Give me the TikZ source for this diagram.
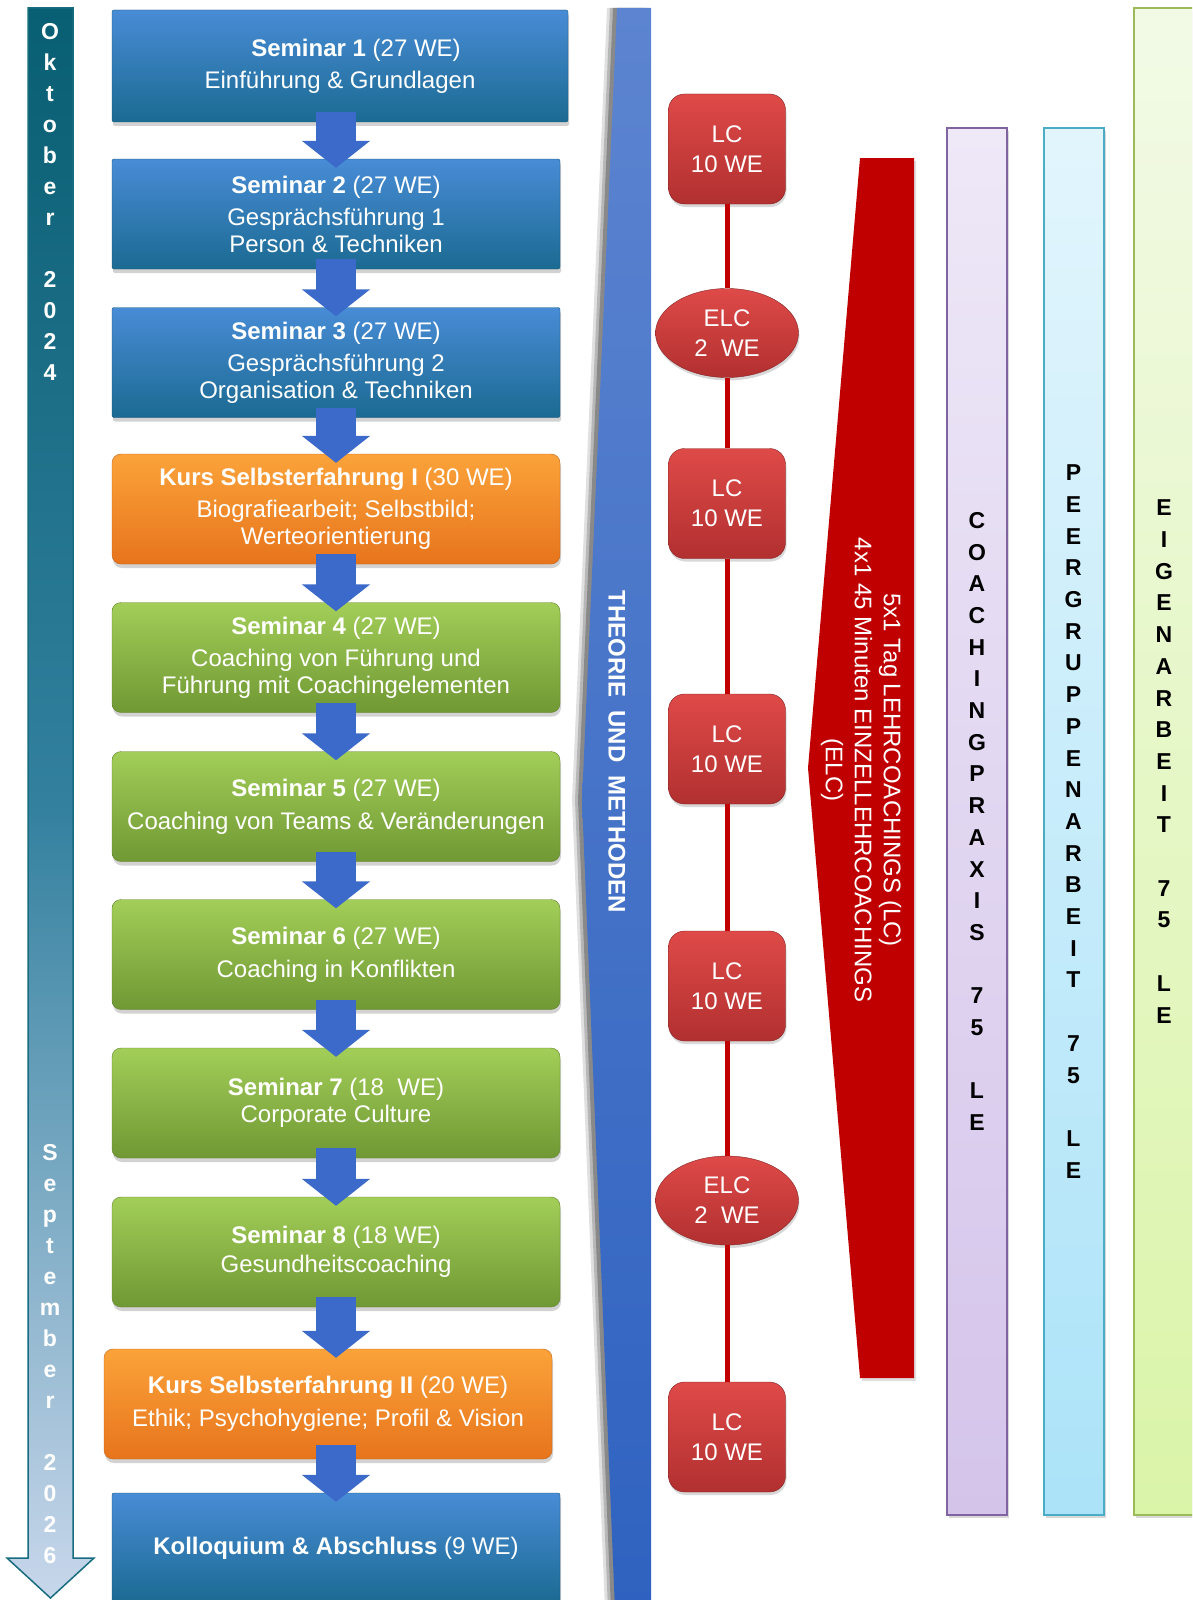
\documentclass[tikz,border=0pt]{standalone}
\usepackage{fontspec}
\setmainfont{Liberation Sans}
\usetikzlibrary{shapes.geometric,arrows.meta,shadows}

\definecolor{bluetop}{RGB}{72,140,214}
\definecolor{bluebot}{RGB}{27,106,146}
\definecolor{orangetop}{RGB}{251,163,58}
\definecolor{orangebot}{RGB}{231,116,28}
\definecolor{greentop}{RGB}{162,206,88}
\definecolor{greenbot}{RGB}{112,152,52}
\definecolor{arrowblue}{RGB}{60,106,202}
\definecolor{theotop}{RGB}{92,132,208}
\definecolor{theobot}{RGB}{47,98,192}
\definecolor{redtop}{RGB}{222,74,72}
\definecolor{redbot}{RGB}{178,48,48}
\definecolor{redline}{RGB}{192,0,0}
\definecolor{tltop}{RGB}{8,94,114}
\definecolor{tlmid}{RGB}{50,128,158}
\definecolor{tlbot}{RGB}{200,215,235}
\definecolor{tlborder}{RGB}{24,108,128}
\definecolor{coachtop}{RGB}{238,232,247}
\definecolor{coachbot}{RGB}{212,196,234}
\definecolor{coachline}{RGB}{128,100,162}
\definecolor{peertop}{RGB}{226,245,253}
\definecolor{peerbot}{RGB}{172,227,248}
\definecolor{peerline}{RGB}{75,172,198}
\definecolor{eigentop}{RGB}{242,250,230}
\definecolor{eigenbot}{RGB}{218,244,168}
\definecolor{eigenline}{RGB}{155,187,89}

\tikzstyle{stage} = [rectangle, minimum width=448pt, minimum height=110pt, align=center, text=white, font=\fontsize{24}{27}\selectfont, drop shadow={shadow xshift=1pt, shadow yshift=-4pt, opacity=.35}]
\tikzstyle{bluestage} = [stage, rounded corners=2pt, top color=bluetop, bottom color=bluebot, draw=bluebot!80!black]
\tikzstyle{orangestage} = [stage, rounded corners=9pt, top color=orangetop, bottom color=orangebot, draw=orangebot!85!black]
\tikzstyle{greenstage} = [stage, rounded corners=9pt, top color=greentop, bottom color=greenbot, draw=greenbot!85!black]
\tikzstyle{blockarrow} = [draw=arrowblue, line width=40pt, -{Triangle[width=67pt,length=27pt]}]
\tikzstyle{lcbox} = [rectangle, rounded corners=16pt, minimum width=117pt, minimum height=110pt, top color=redtop, bottom color=redbot, draw=redbot!75!black, text=white, align=center, font=\fontsize{24}{30}\selectfont, drop shadow={shadow xshift=1pt, shadow yshift=-3pt, opacity=.3}]
\tikzstyle{elcbox} = [lcbox, ellipse, sharp corners, inner sep=0pt, minimum width=143pt, minimum height=89pt]
\tikzstyle{lcline} = [draw=redline, line width=5pt]
\tikzstyle{column} = [rectangle, minimum width=60pt, line width=2pt, align=center, font=\bfseries\fontsize{23}{31.7}\selectfont, drop shadow={shadow xshift=2pt, shadow yshift=-3pt, opacity=.3}]
\tikzstyle{monthtext} = [align=center, text=white, font=\bfseries\fontsize{23}{31}\selectfont]
\tikzstyle{theotext} = [rotate=-90, text=white, font=\bfseries\fontsize{24}{28}\selectfont]
\tikzstyle{bracetext} = [rotate=-90, align=center, text=white, font=\fontsize{24}{29}\selectfont]

\begin{document}
\begin{tikzpicture}[x=1pt, y=-1pt]
    \useasboundingbox (0,0) rectangle (1192,1600);
    \fill[white] (0,0) rectangle (1192,1600);
    \clip (0,0) rectangle (1192,1600);

    \fill[black, opacity=.12, xshift=-10pt] (617,8) -- (651,8) -- (651,1610) -- (615,1610) -- (582,800) -- cycle;
    \fill[black, opacity=.18, xshift=-7pt] (617,8) -- (651,8) -- (651,1610) -- (615,1610) -- (582,800) -- cycle;
    \fill[black, opacity=.25, xshift=-4pt] (617,8) -- (651,8) -- (651,1610) -- (615,1610) -- (582,800) -- cycle;
    \path[top color=theotop, bottom color=theobot] (617,8) -- (651,8) -- (651,1610) -- (615,1610) -- (582,800) -- cycle;
    \node (theo) [theotext] at (617,752) {THEORIE~~UND~~METHODEN};

    \path[top color=tltop, bottom color=tlbot, middle color=tlmid, draw=tlborder, line width=1.5pt] (28,8) -- (73,8) -- (73,1558) -- (94,1558) -- (50.5,1598) -- (7,1558) -- (28,1558) -- cycle;
    \node (okt) [monthtext] at (50,202) {O\\k\\t\\o\\b\\e\\r\\~\\2\\0\\2\\4};
    \node (sep) [monthtext] at (50,1354) {S\\e\\p\\t\\e\\m\\b\\e\\r\\~\\2\\0\\2\\6};

    \node (s1) [bluestage, minimum width=456pt, minimum height=112pt] at (340,66) {\hspace*{32pt}\textbf{Seminar 1} (27 WE)\\[5pt]Einführung \& Grundlagen};
    \node (s2) [bluestage] at (336,214) {\textbf{Seminar 2} (27 WE)\\[5pt]Gesprächsführung 1\\Person \& Techniken};
    \node (s3) [bluestage] at (336,362.5) {\textbf{Seminar 3} (27 WE)\\[5pt]Gesprächsführung 2\\Organisation \& Techniken};
    \node (k1) [orangestage] at (336,509) {\textbf{Kurs Selbsterfahrung I} (30 WE)\\[5pt]Biografiearbeit; Selbstbild;\\Werteorientierung};
    \node (s4) [greenstage] at (336,657.5) {\textbf{Seminar 4} (27 WE)\\[5pt]Coaching von Führung und\\Führung mit Coachingelementen};
    \node (s5) [greenstage] at (336,806.5) {\textbf{Seminar 5} (27 WE)\\[6pt]Coaching von Teams \& Veränderungen};
    \node (s6) [greenstage] at (336,954.5) {\textbf{Seminar 6} (27 WE)\\[6pt]Coaching in Konflikten};
    \node (s7) [greenstage] at (336,1103) {\textbf{Seminar 7} (18~~WE)\\Corporate Culture};
    \node (s8) [greenstage] at (336,1252) {\textbf{Seminar 8} (18 WE)\\[2pt]Gesundheitscoaching};
    \node (k2) [orangestage] at (328,1404) {\textbf{Kurs Selbsterfahrung II} (20 WE)\\[6pt]Ethik; Psychohygiene; Profil \& Vision};
    \node (kol) [bluestage] at (336,1548) {\textbf{Kolloquium \& Abschluss} (9 WE)};

    \draw[blockarrow] ([xshift=-4pt,yshift=10pt]s1.south) -- ([yshift=-9pt]s2.north);
    \draw[blockarrow] ([yshift=10pt]s2.south) -- ([yshift=-9pt]s3.north);
    \draw[blockarrow] ([yshift=10pt]s3.south) -- ([yshift=-9pt]k1.north);
    \draw[blockarrow] ([yshift=10pt]k1.south) -- ([yshift=-9pt]s4.north);
    \draw[blockarrow] ([yshift=10pt]s4.south) -- ([yshift=-9pt]s5.north);
    \draw[blockarrow] ([yshift=10pt]s5.south) -- ([yshift=-9pt]s6.north);
    \draw[blockarrow] ([yshift=10pt]s6.south) -- ([yshift=-9pt]s7.north);
    \draw[blockarrow] ([yshift=10pt]s7.south) -- ([yshift=-9pt]s8.north);
    \draw[blockarrow] ([yshift=10pt]s8.south) -- ([xshift=8pt,yshift=-9pt]k2.north);
    \draw[blockarrow] ([xshift=8pt,yshift=14pt]k2.south) -- ([yshift=-9pt]kol.north);

    \path[fill=redline, drop shadow={shadow xshift=2pt, shadow yshift=-3pt, opacity=.25}] (860,158) -- (914,158) -- (914,1378) -- (860,1378) -- (808,768) -- cycle;
    \node (lctext) [bracetext] at (861,770) {5x1 Tag LEHRCOACHINGS (LC)\\4x1 45 Minuten EINZELLEHRCOACHINGS\\(ELC)};

    \node (lc1) [lcbox] at (727,149) {LC\\10 WE};
    \node (elc1) [elcbox] at (727,333) {ELC\\2~~WE};
    \node (lc2) [lcbox] at (727,503.5) {LC\\10 WE};
    \node (lc3) [lcbox] at (727,749) {LC\\10 WE};
    \node (lc4) [lcbox] at (727,986) {LC\\10 WE};
    \node (elc2) [elcbox] at (727,1200.5) {ELC\\2~~WE};
    \node (lc5) [lcbox] at (727,1437) {LC\\10 WE};

    \draw[lcline] (lc1) -- (elc1);
    \draw[lcline] (elc1) -- (lc2);
    \draw[lcline] (lc2) -- (lc3);
    \draw[lcline] (lc3) -- (lc4);
    \draw[lcline] (lc4) -- (elc2);
    \draw[lcline] (elc2) -- (lc5);

    \node (coach) [column, minimum height=1387pt, top color=coachtop, bottom color=coachbot, draw=coachline] at (977,821.5) {C\\O\\A\\C\\H\\I\\N\\G\\P\\R\\A\\X\\I\\S\\~\\7\\5\\~\\L\\E};
    \node (peer) [column, minimum height=1387pt, top color=peertop, bottom color=peerbot, draw=peerline] at (1073.5,821.5) {P\\E\\E\\R\\G\\R\\U\\P\\P\\E\\N\\A\\R\\B\\E\\I\\T\\~\\7\\5\\~\\L\\E};
    \node (eigen) [column, minimum height=1507pt, top color=eigentop, bottom color=eigenbot, draw=eigenline] at (1164,761.5) {E\\I\\G\\E\\N\\A\\R\\B\\E\\I\\T\\~\\7\\5\\~\\L\\E};

\end{tikzpicture}
\end{document}
